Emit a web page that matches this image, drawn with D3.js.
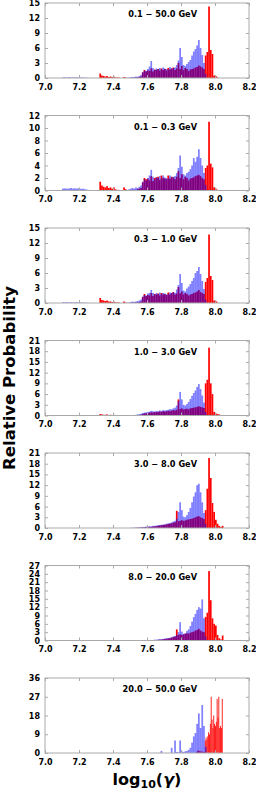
<!DOCTYPE html>
<html>
<head>
<meta charset="utf-8">
<script src="https://cdn.jsdelivr.net/npm/d3@7/dist/d3.min.js"></script>
<style>
body { margin: 0; background: #fff; }
svg { display: block; }
text { font-family: "DejaVu Sans", sans-serif; font-weight: bold; }
</style>
</head>
<body>
<div id="chart"></div>
<script>
// energy bins, one panel each
var panelTitles = ["0.1 \u2212 50.0 GeV", "0.1 \u2212 0.3 GeV", "0.3 \u2212 1.0 GeV", "1.0 \u2212 3.0 GeV",
                   "3.0 \u2212 8.0 GeV", "8.0 \u2212 20.0 GeV", "20.0 \u2212 50.0 GeV"];
var yMaxes = [15, 12, 15, 21, 21, 27, 36];
var yTickSteps = [3, 2, 3, 3, 3, 3, 9];
var xTicks = [7.0, 7.2, 7.4, 7.6, 7.8, 8.0, 8.2];

// histograms: first bin left edge, bin width, heights
var blue1Start = 7.10, blue1Width = 0.01;
var blue1 = [0.1,0.15,0.1,0.1,0.15,0.1,0.12,0.1,0.15,0.1, 0.1,0.1,0.08,0.05,0.05,0,0,0,0,0,
  0,0,0,0,0,0,0,0,0,0, 0,0,0,0,0,0,0,0,0.05,0.1,
  0.15,0.2,0.2,0.3,0.25,0.4,0.6,1.2,1.5,1.4, 1.8,2.3,3.4,2.0,1.6,1.9,1.8,2.0,1.7,2.1,
  1.9,1.8,1.7,2.2,1.9,2.0,2.1,2.6,3.5,6.0, 4.2,2.6,2.4,2.8,3.2,3.6,4.5,5.3,5.8,6.5,
  7.6,6.0,4.6,3.0,0.8];
var red1Start = 7.32, red1Width = 0.01;
var red1 = [0.9,0.5,0.4,0.3,0.4,0.2,0.3,0.2,0.3,0.1, 0.1,0.1,0,0,0.2,0.1,0,0,0,0.05,
  0.05,0.1,0.1,0.2,0.3,1.1,1.6,1.3,1.5,1.4, 1.9,1.3,1.7,1.6,1.8,1.5,1.9,1.6,1.8,1.5,
  2.0,1.7,1.9,2.1,1.6,1.9,3.0,1.8,2.4,1.6, 2.0,1.8,1.4,1.7,1.8,1.9,2.1,2.2,2.5,2.3,
  2.1,1.8,4.5,5.2,14.3,5.6,4.8,0.5,0.4,0.1];

var blue2Start = 7.10, blue2Width = 0.01;
var blue2 = [0.3,0.35,0.3,0.3,0.35,0.4,0.3,0.35,0.3,0.35, 0.3,0.25,0.3,0.2,0.15,0.1,0,0,0,0,
  0,0,0,0,0,0,0,0,0,0, 0,0,0,0,0,0,0,0,0.1,0.2,
  0.3,0.4,0.3,0.5,0.4,0.6,0.8,1.4,1.8,1.6, 2.0,2.4,3.3,2.2,1.8,2.1,2.0,2.3,1.9,2.4,
  2.1,2.0,1.9,2.4,2.1,2.2,2.3,2.8,3.6,5.6, 3.8,2.6,2.4,2.8,3.0,3.4,4.0,5.2,4.6,5.4,
  6.6,5.2,4.0,2.8,0.9];
var red2Start = 7.32, red2Width = 0.01;
var red2 = [1.4,0.8,0.6,0.5,0.7,0.4,0.5,0.3,0.5,0.2, 0.1,0.1,0,0,0.5,0.2,0,0,0,0.1,
  0.1,0.1,0.2,0.3,0.4,1.3,2.0,1.8,1.9,1.6, 2.3,1.5,2.0,2.1,2.2,1.7,2.4,2.0,1.9,1.8,
  2.4,1.9,2.2,2.1,1.8,2.2,3.1,2.0,2.6,1.8, 2.2,2.0,1.6,1.9,2.0,2.1,2.3,2.4,2.5,2.3,
  2.0,1.8,3.6,4.0,11.0,4.3,3.7,0.5,0.3,0.1];

var blue3Start = 7.10, blue3Width = 0.01;
var blue3 = [0.15,0.1,0.15,0.1,0.1,0.15,0.1,0.1,0.15,0.1, 0.1,0.1,0.05,0.05,0.05,0,0,0,0,0,
  0,0,0,0,0,0,0,0,0,0, 0,0,0,0,0,0,0,0,0.05,0.1,
  0.2,0.3,0.2,0.3,0.4,0.5,0.7,1.3,1.6,1.5, 1.9,2.0,2.6,2.0,1.7,2.0,1.8,2.1,1.8,2.0,
  1.9,1.7,1.8,2.1,2.0,2.2,2.0,2.7,3.6,5.8, 4.0,2.5,2.3,2.9,3.3,3.8,4.4,5.0,6.0,6.4,
  7.2,5.8,4.4,2.8,0.7];
var red3Start = 7.32, red3Width = 0.01;
var red3 = [1.0,0.6,0.5,0.4,0.5,0.3,0.3,0.2,0.3,0.1, 0.1,0.1,0,0,0.3,0.1,0,0,0,0.05,
  0.05,0.1,0.1,0.2,0.3,1.2,1.8,1.4,1.6,1.5, 2.0,1.4,1.8,1.7,1.9,1.5,2.0,1.7,1.8,1.6,
  2.1,1.7,2.0,2.2,1.7,1.9,3.2,1.9,2.3,1.7, 2.0,1.8,1.5,1.7,1.8,2.0,2.1,2.3,2.6,2.2,
  2.0,1.8,4.2,5.0,13.7,5.4,4.6,0.5,0.4,0.1];

var blue4Start = 7.50, blue4Width = 0.01;
var blue4 = [0.05,0.1,0.1,0.2,0.3,0.4,0.5,0.7,0.8,0.9, 1.0,1.1,1.3,1.2,1.1,1.3,1.2,1.4,1.3,1.5,
  1.4,1.5,1.6,1.8,1.7,2.0,2.2,2.8,4.0,6.6, 4.5,3.0,2.8,3.2,3.8,4.6,5.5,6.3,7.0,8.0,
  8.8,7.4,5.6,3.6,1.0];
var red4Start = 7.32, red4Width = 0.01;
var red4 = [0.4,0.3,0.2,0.2,0.3,0.1,0.2,0.1,0.2,0.1, 0.05,0.05,0,0,0.1,0.05,0,0,0,0,
  0,0.05,0.05,0.1,0.2,0.4,0.6,0.6,0.7,0.8, 0.9,0.8,1.0,0.9,1.0,1.1,1.0,1.2,1.1,1.2,
  1.3,1.2,1.4,1.5,1.4,1.6,4.5,1.8,2.0,1.7, 1.8,1.9,1.7,2.0,2.1,2.2,2.3,2.4,2.6,2.4,
  2.3,2.1,9.0,10.0,19.0,9.0,6.0,1.0,0.6,0.4, 0.3,0.1];

var blue5Start = 7.50, blue5Width = 0.01;
var blue5 = [0.05,0.05,0.1,0.1,0.15,0.2,0.2,0.3,0.3,0.4, 0.4,0.5,0.5,0.6,0.6,0.7,0.8,0.8,0.9,1.0,
  1.0,1.2,1.3,1.4,1.6,1.8,2.0,2.6,4.5,7.2, 5.0,3.2,3.0,3.6,4.5,5.6,7.2,8.8,10.0,12.0,
  12.4,10.0,7.2,4.2,1.2];
var red5Start = 7.50, red5Width = 0.01;
var red5 = [0,0,0,0.05,0.05,0.05,0.1,0.1,0.15,0.2, 0.2,0.3,0.3,0.4,0.5,0.5,0.6,0.7,0.8,0.8,
  0.9,1.0,1.1,1.2,1.3,1.5,1.6,4.8,1.9,2.0, 2.2,2.0,2.1,2.3,2.4,2.5,2.6,2.8,3.0,3.2,
  3.3,3.0,2.8,2.5,5.0,11.0,19.6,14.0,7.0,4.5, 2.3,1.2,0.6,0.3,0.6];

var blue6Start = 7.60, blue6Width = 0.01;
var blue6 = [0.1,0.1,0.2,0.2,0.3,0.3,0.4,0.5,0.5,0.6, 0.7,0.8,0.9,1.0,1.2,1.5,1.6,2.0,3.0,6.6,
  3.2,2.4,2.6,3.4,4.0,5.2,6.8,8.4,9.6,11.0, 12.0,11.5,14.8,8.0,1.5];
var red6Start = 7.60, red6Width = 0.01;
var red6 = [0,0.05,0.1,0.1,0.1,0.2,0.2,0.3,0.3,0.4, 0.5,0.6,0.7,0.8,1.0,1.2,1.4,4.0,2.0,2.2,
  2.0,2.2,2.4,2.6,2.5,2.8,3.0,3.2,3.6,3.8, 4.2,3.6,3.2,3.0,8.5,10.0,25.0,14.5,8.0,6.0,
  5.4,2.0,0.8,0.4,1.8];

var blue7Start = 7.68, blue7Width = 0.01;
var blue7 = [1.0,0,0,0,0,0,2.5,0,6.0,0.5, 0.3,6.0,0.8,0.5,0.8,1.0,1.5,2.5,5.0,8.0,
  9.6,14.0,19.0,12.0,23.0,13.0,3.0];
var red7Start = 7.89, red7Width = 0.005;
var red7 = [0.5,1.0,1.2,1.0,0.8,0.6,1.0,0.5,0.3,0.5,
  6.0,7.5,6.5,8.0,10.0,9.0,14.0,27.0,16.0,12.0, 18.0,14.0,13.0,15.0,26.0,17.0,27.0,12.0,13.0,12.0, 26.0];

var blueSeries = [[blue1Start, blue1Width, blue1], [blue2Start, blue2Width, blue2], [blue3Start, blue3Width, blue3],
  [blue4Start, blue4Width, blue4], [blue5Start, blue5Width, blue5], [blue6Start, blue6Width, blue6], [blue7Start, blue7Width, blue7]];
var redSeries = [[red1Start, red1Width, red1], [red2Start, red2Width, red2], [red3Start, red3Width, red3],
  [red4Start, red4Width, red4], [red5Start, red5Width, red5], [red6Start, red6Width, red6], [red7Start, red7Width, red7]];

var W = 256, H = 792;
var left = 45, right = 249, panelH = 75, firstTop = 3, panelStep = 112.5;

var svg = d3.select("#chart").append("svg")
    .attr("width", W)
    .attr("height", H);

var x = d3.scaleLinear().domain([7.0, 8.2]).range([left, right]);

function toBins(s) {
  return s[2].map(function(v, i) {
    return {x0: s[0] + i * s[1], x1: s[0] + (i + 1) * s[1], v: v};
  }).filter(function(d) { return d.v > 0; });
}

panelTitles.forEach(function(title, p) {
  var top = firstTop + p * panelStep;
  var y = d3.scaleLinear().domain([0, yMaxes[p]]).range([top + panelH, top]);
  var yTicks = d3.range(0, yMaxes[p] + 0.001, yTickSteps[p]);
  var g = svg.append("g");

  // red first, translucent blue on top gives the purple overlap
  g.selectAll("rect.red")
      .data(toBins(redSeries[p]))
      .enter().append("rect")
      .attr("class", "red")
      .attr("x", function(d) { return x(d.x0); })
      .attr("width", function(d) { return x(d.x1) - x(d.x0); })
      .attr("y", function(d) { return y(d.v); })
      .attr("height", function(d) { return y(0) - y(d.v); })
      .attr("fill", "#ff0000");

  g.selectAll("rect.blue")
      .data(toBins(blueSeries[p]))
      .enter().append("rect")
      .attr("class", "blue")
      .attr("x", function(d) { return x(d.x0); })
      .attr("width", function(d) { return x(d.x1) - x(d.x0); })
      .attr("y", function(d) { return y(d.v); })
      .attr("height", function(d) { return y(0) - y(d.v); })
      .attr("fill", "#0000ff")
      .attr("fill-opacity", 0.5);

  var xb = g.append("g")
      .attr("transform", "translate(0," + (top + panelH) + ")")
      .call(d3.axisBottom(x).tickValues(xTicks).tickFormat(d3.format(".1f"))
            .tickSizeInner(-3).tickSizeOuter(0).tickPadding(6.3));
  var xt = g.append("g")
      .attr("transform", "translate(0," + top + ")")
      .call(d3.axisTop(x).tickValues(xTicks).tickFormat("").tickSizeInner(-3).tickSizeOuter(0));
  var yl = g.append("g")
      .attr("transform", "translate(" + left + ",0)")
      .call(d3.axisLeft(y).tickValues(yTicks).tickFormat(d3.format("d"))
            .tickSizeInner(-3).tickSizeOuter(0).tickPadding(5));
  var yr = g.append("g")
      .attr("transform", "translate(" + right + ",0)")
      .call(d3.axisRight(y).tickValues(yTicks).tickFormat("").tickSizeInner(-3).tickSizeOuter(0));

  [xb, xt, yl, yr].forEach(function(a) {
    a.select(".domain").remove();
    a.selectAll(".tick line").attr("stroke", "#aaa");
    a.selectAll("text").attr("font-size", 8).attr("font-family", "DejaVu Sans")
      .attr("font-weight", "bold").attr("fill", "#000");
  });

  g.append("rect")
      .attr("x", left)
      .attr("y", top)
      .attr("width", right - left)
      .attr("height", panelH)
      .attr("fill", "none")
      .attr("stroke", "#aaa")
      .attr("stroke-width", 1);

  g.append("text")
      .attr("x", 197)
      .attr("y", top + 14)
      .attr("text-anchor", "end")
      .attr("font-size", 8.2)
      .text(title);
});

svg.append("text")
    .attr("transform", "translate(15," + (firstTop + (6 * panelStep + panelH) / 2) + ") rotate(-90)")
    .attr("text-anchor", "middle")
    .attr("font-size", 16.5)
    .text("Relative Probability");

var xl = svg.append("text")
    .attr("x", (left + right) / 2)
    .attr("y", 785)
    .attr("text-anchor", "middle")
    .attr("font-size", 16);
xl.append("tspan").text("log");
xl.append("tspan").attr("font-size", 11).attr("dy", 3).text("10");
xl.append("tspan").attr("dy", -3).text("(");
xl.append("tspan").attr("font-style", "italic").text("\u03b3");
xl.append("tspan").text(")");
</script>
</body>
</html>
